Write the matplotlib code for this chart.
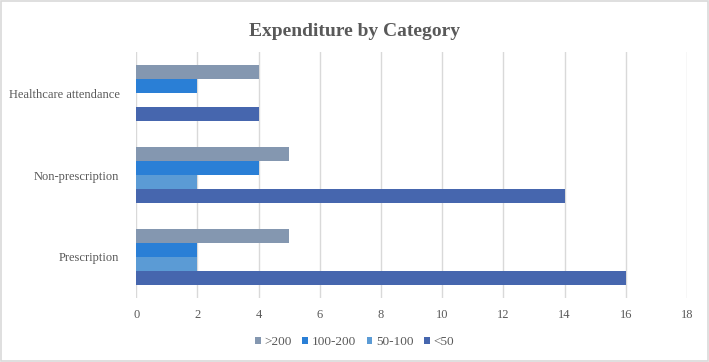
import matplotlib
matplotlib.use("Agg")
import matplotlib.pyplot as plt
from matplotlib.patches import Rectangle
import numpy as np

categories = ["Prescription", "Non-prescription", "Healthcare attendance"]
series = [">200", "100-200", "50-100", "<50"]
vals_gt200 = [5, 5, 4]
vals_100_200 = [2, 4, 2]
vals_50_100 = [2, 2, 0]
vals_lt50 = [16, 14, 4]
x_ticks = list(range(0, 19, 2))

colors = ["#8497B0", "#2A7FD6", "#5B9BD5", "#4666AE"]
text_col = "#595959"

plt.rcParams["font.family"] = ["Liberation Serif", "DejaVu Serif"]

fig = plt.figure(figsize=(7.09, 3.62), dpi=100)
ax = fig.add_axes([0.192, 0.177, 0.777, 0.679])

y = np.arange(len(categories))
bh = 0.172
all_vals = [vals_gt200, vals_100_200, vals_50_100, vals_lt50]
offsets = [1.5, 0.5, -0.5, -1.5]
for vals, col, lab, off in zip(all_vals, colors, series, offsets):
    ax.barh(y + off * bh, vals, height=bh, color=col, label=lab, zorder=3)

ax.set_xlim(0, 18)
ax.set_ylim(-0.5, 2.5)
ax.set_xticks(x_ticks)
ax.set_yticks(y)
ax.set_yticklabels(categories)
ax.tick_params(length=0, labelsize=9, colors=text_col)
ax.tick_params(axis="x", pad=8)
ax.tick_params(axis="y", pad=12)
ax.grid(axis="x", color="#D9D9D9", linewidth=1, zorder=0)
for s in ax.spines.values():
    s.set_visible(False)

fig.suptitle("Expenditure by Category", x=0.5, y=0.937, fontsize=14,
             fontweight="bold", color=text_col)

fig.legend(loc="center", bbox_to_anchor=(0.5, 0.055), ncol=4, frameon=False,
           fontsize=9.5, labelcolor=text_col, handlelength=0.45, handleheight=0.45,
           handletextpad=0.25, columnspacing=0.8)

fig.patches.append(Rectangle((0.002, 0.003), 0.996, 0.994, transform=fig.transFigure,
                             fill=False, edgecolor="#D9D9D9", linewidth=1.2))

plt.savefig("out.png", dpi=100)
plt.close()
